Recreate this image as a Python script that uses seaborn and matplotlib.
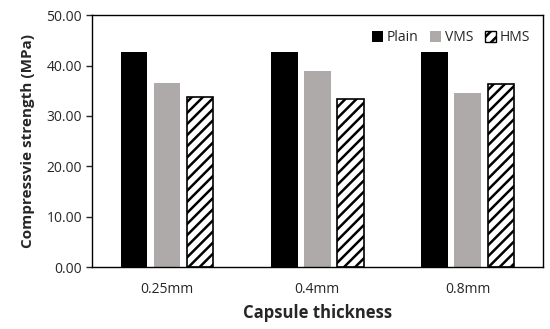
import matplotlib
matplotlib.use("Agg")
import matplotlib.pyplot as plt
import seaborn as sns
import pandas as pd
from matplotlib.ticker import FormatStrFormatter
from matplotlib.patches import Patch

categories = ["0.25mm", "0.4mm", "0.8mm"]
series = ["Plain", "VMS", "HMS"]
plain = [42.7, 42.7, 42.7]
vms = [36.5, 38.9, 34.5]
hms = [33.7, 33.3, 36.3]

rows = []
for name, vals in zip(series, [plain, vms, hms]):
    for c, v in zip(categories, vals):
        rows.append({"thickness": c, "series": name, "value": v})
df = pd.DataFrame(rows)

sns.set_style("white")
plt.rcParams['font.family'] = ['Open Sans', 'DejaVu Sans']
plt.rcParams['hatch.linewidth'] = 1.8

fig, ax = plt.subplots(figsize=(5.5, 3.29), dpi=100)
fig.subplots_adjust(left=0.167, right=0.987, top=0.954, bottom=0.188)

palette = {"Plain": "#000000", "VMS": "#aeaaaa", "HMS": "#ffffff"}
sns.barplot(data=df, x="thickness", y="value", hue="series", hue_order=series,
            order=categories, palette=palette, width=0.66, gap=0.2, ax=ax,
            saturation=1, legend=False)

n = len(categories)
for i, patch in enumerate(ax.patches):
    idx = i // n
    if idx == 2:
        patch.set_hatch("///")
        patch.set_edgecolor("black")
        patch.set_linewidth(1.2)
    else:
        patch.set_edgecolor("none")

ax.set_ylim(0, 50)
ax.set_yticks([0, 10, 20, 30, 40, 50])
ax.yaxis.set_major_formatter(FormatStrFormatter("%.2f"))
ax.set_xlim(-0.5, 2.5)
for s in ax.spines.values():
    s.set_visible(True)
    s.set_color("black")
    s.set_linewidth(1.0)
ax.tick_params(axis="y", left=True, length=4, width=1, labelsize=10, pad=3)
ax.tick_params(axis="x", bottom=False, labelsize=10, pad=7)
ax.set_xlabel("Capsule thickness", fontsize=12, fontweight="bold", labelpad=5)
ax.set_ylabel("Compressvie strength (MPa)", fontsize=11, fontweight="bold", labelpad=8)

handles = [Patch(facecolor="black", edgecolor="none", label="Plain"),
           Patch(facecolor="#aeaaaa", edgecolor="none", label="VMS"),
           Patch(facecolor="white", edgecolor="black", hatch="///", label="HMS")]
ax.legend(handles=handles, loc="upper right", ncol=3, frameon=False, fontsize=10,
          handlelength=0.8, handleheight=0.8, handletextpad=0.3, columnspacing=0.8,
          bbox_to_anchor=(1.0, 0.99))

fig.savefig("out.png", dpi=100)
